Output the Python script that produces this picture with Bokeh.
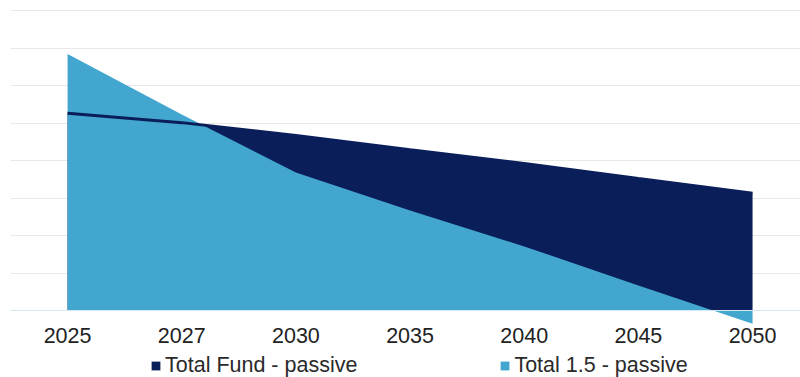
from bokeh.plotting import figure
from bokeh.layouts import column
from bokeh.models import Range1d, FixedTicker, Legend, LegendItem, Span, ColumnDataSource
from bokeh.embed import file_html
from bokeh.resources import INLINE

years = ["2025", "2027", "2030", "2035", "2040", "2045", "2050"]
total_fund_passive = [5.26, 5.01, 4.67, 4.29, 3.92, 3.52, 3.13]
total_15_passive = [6.84, 5.23, 3.68, 2.67, 1.71, 0.67, -0.35]
series_names = ["Total Fund - passive", "Total 1.5 - passive"]

idx = list(range(len(years)))
src = ColumnDataSource(dict(x=idx, fund=total_fund_passive, p15=total_15_passive,
                            zero=[0] * len(idx)))

DARK = "#0A1E5A"
LIGHT = "#42A6CF"
FONT = "Liberation Sans"
FS = "21.5px"

p = figure(frame_width=790, frame_height=325, output_backend="svg", toolbar_location=None,
           x_range=Range1d(-0.5, 6.42), y_range=Range1d(-0.4, 8.267),
           min_border_left=10, min_border_right=0, min_border_top=0, min_border_bottom=26,
           outline_line_color=None, background_fill_color="white", border_fill_color="white")

p.varea(x="x", y1="zero", y2="fund", source=src, fill_color=DARK)
p.varea(x="x", y1="zero", y2="p15", source=src, fill_color=LIGHT)
p.line(x="x", y="fund", source=src, line_color=DARK, line_width=3)

p.add_layout(Span(location=0, dimension="width", line_color="#d6e6ee", line_width=1, level="overlay"))

p.yaxis.visible = False
p.ygrid.ticker = FixedTicker(ticks=list(range(0, 9)))
p.ygrid.grid_line_color = "#e8e8e8"
p.ygrid.grid_line_width = 1
p.xgrid.visible = False

ax = p.xaxis[0]
ax.ticker = FixedTicker(ticks=idx)
ax.major_label_overrides = {i: y for i, y in zip(idx, years)}
ax.axis_line_color = None
ax.major_tick_line_color = None
ax.minor_tick_line_color = None
ax.major_label_text_font = FONT
ax.major_label_text_font_size = FS
ax.major_label_text_color = "#222222"
ax.major_label_standoff = -4

# legend strip (keys drawn from out-of-view dummy areas)
lg = figure(frame_width=800, frame_height=26, output_backend="svg", toolbar_location=None,
            x_range=Range1d(0, 1), y_range=Range1d(0, 1),
            min_border_left=0, min_border_right=0, min_border_top=0, min_border_bottom=0,
            outline_line_color=None, background_fill_color="white", border_fill_color="white")
lg.axis.visible = False
lg.grid.visible = False
d1 = lg.varea(x=[5, 6], y1=[5, 5], y2=[5, 5], fill_color=DARK)
d2 = lg.varea(x=[5, 6], y1=[5, 5], y2=[5, 5], fill_color=LIGHT)

legend = Legend(items=[LegendItem(label=series_names[0], renderers=[d1]),
                       LegendItem(label=series_names[1], renderers=[d2])],
                orientation="horizontal", location=(150, -1),
                glyph_width=11, glyph_height=11, label_standoff=4, spacing=142,
                label_height=20, padding=0, margin=0, border_line_color=None,
                background_fill_alpha=0,
                label_text_font=FONT, label_text_font_size=FS, label_text_color="#2a2a2a")
lg.add_layout(legend, "center")

layout = column(p, lg, spacing=0)
open("out.html", "w").write(file_html(layout, INLINE))
